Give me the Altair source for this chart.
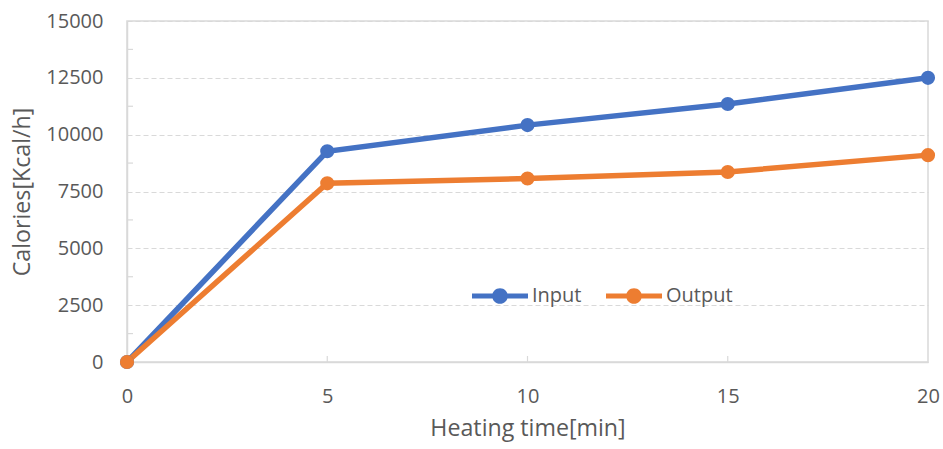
import altair as alt
import pandas as pd

# Heating time (min) and measured calories (Kcal/h)
minutes = [0, 5, 10, 15, 20]
input_kcal = [0, 9270, 10420, 11350, 12500]
output_kcal = [0, 7860, 8070, 8360, 9100]
series_names = ["Input", "Output"]
series_colors = ["#4472C4", "#ED7D31"]

# Minor tick positions on both axes
y_minor = [1250, 3750, 6250, 8750, 11250, 13750]
x_minor = [5, 10, 15]

df = pd.DataFrame(
    {
        "minutes": minutes * 2,
        "kcal": input_kcal + output_kcal,
        "series": [series_names[0]] * len(minutes) + [series_names[1]] * len(minutes),
    }
)

FONT = "Open Sans"
TEXT = "#595959"
GRID = "#D9D9D9"

W, H = 801, 341

# Legend glyph: a bar with a dot in the middle, in [-1, 1] units
LEGEND_PATH = (
    "M-1,-0.09 L1,-0.09 L1,0.09 L-1,0.09 Z "
    "M-0.28,0 A0.28,0.28 0 1,1 0.28,0 A0.28,0.28 0 1,1 -0.28,0 Z"
)

x_enc = alt.X(
    "minutes:Q",
    scale=alt.Scale(domain=[0, 20], nice=False),
    axis=alt.Axis(
        values=[0, 5, 10, 15, 20],
        title="Heating time[min]",
        grid=False,
        tickSize=0,
        labelFlush=False,
        labelPadding=24,
        titlePadding=11,
    ),
)
y_enc = alt.Y(
    "kcal:Q",
    scale=alt.Scale(domain=[0, 15000], nice=False),
    axis=alt.Axis(
        values=[0, 2500, 5000, 7500, 10000, 12500, 15000],
        title="Calories[Kcal/h]",
        format="d",
        tickSize=0,
        labelPadding=24,
        titlePadding=11,
        grid=True,
        gridDash=[5, 3],
        gridColor=GRID,
    ),
)
color_enc = alt.Color(
    "series:N",
    scale=alt.Scale(domain=series_names, range=series_colors),
    legend=alt.Legend(
        title=None,
        orient="none",
        direction="horizontal",
        legendX=345,
        legendY=247,
        symbolType=LEGEND_PATH,
        symbolSize=3136,
        symbolStrokeWidth=0,
        labelFont=FONT,
        labelFontSize=20,
        labelColor=TEXT,
        labelOffset=4,
        columnPadding=24,
    ),
)

lines = alt.Chart(df).mark_line(strokeWidth=5.5).encode(x=x_enc, y=y_enc, color=color_enc)
dots = alt.Chart(df).mark_point(filled=True, size=200, opacity=1).encode(
    x="minutes:Q", y="kcal:Q", color=alt.Color("series:N")
)

y_ticks = alt.Chart(pd.DataFrame({"v": y_minor})).mark_rule(color=GRID, strokeWidth=1.2).encode(
    y="v:Q", x=alt.value(0), x2=alt.value(6)
)
x_ticks = alt.Chart(pd.DataFrame({"v": x_minor})).mark_rule(color=GRID, strokeWidth=1.2).encode(
    x="v:Q", y=alt.value(H - 6), y2=alt.value(H)
)

chart = (
    alt.layer(y_ticks, x_ticks, lines, dots)
    .properties(
        width=W,
        height=H,
        autosize=alt.AutoSizeParams(type="none"),
        padding={"left": 127, "top": 21, "right": 15, "bottom": 87},
        background="white",
    )
    .configure_view(stroke=GRID, strokeWidth=1.5)
    .configure_axis(
        labelFont=FONT,
        labelFontSize=20,
        labelColor=TEXT,
        titleFont=FONT,
        titleFontSize=23.2,
        titleFontWeight="normal",
        titleColor=TEXT,
        domainColor=GRID,
        domainWidth=1.5,
    )
)

chart.save("out.html", embed_options={"renderer": "svg", "actions": False})
